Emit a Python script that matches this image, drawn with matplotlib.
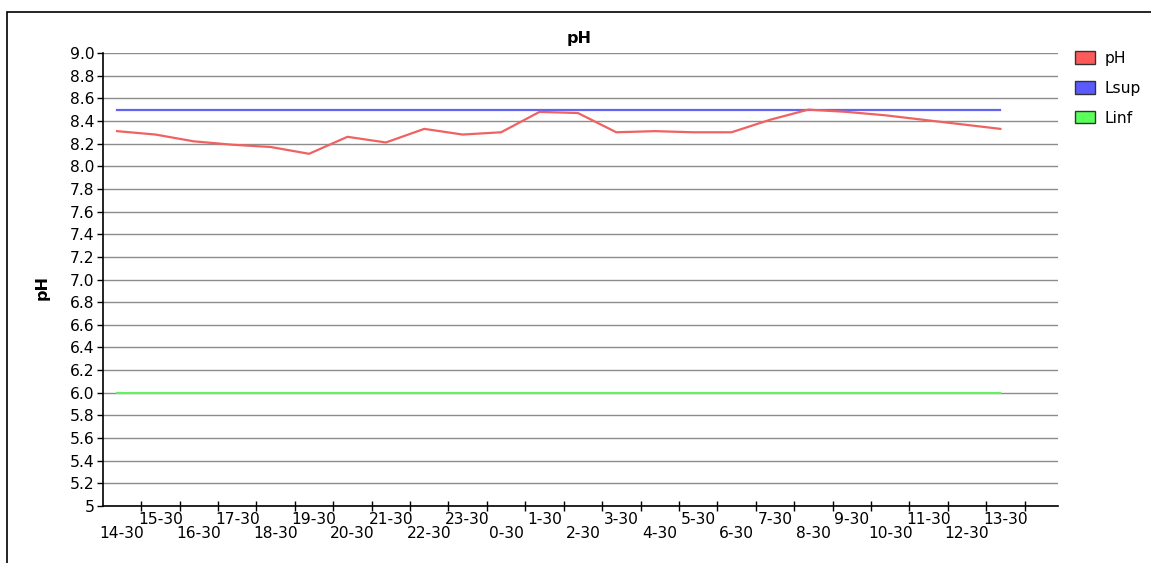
import matplotlib
matplotlib.use("Agg")
import matplotlib.pyplot as plt
import matplotlib.transforms as mtransforms
import numpy as np
from matplotlib.patches import Patch, Rectangle

categories = ["14-30", "15-30", "16-30", "17-30", "18-30", "19-30", "20-30", "21-30",
              "22-30", "23-30", "0-30", "1-30", "2-30", "3-30", "4-30", "5-30",
              "6-30", "7-30", "8-30", "9-30", "10-30", "11-30", "12-30", "13-30"]
ph_values = [8.31, 8.28, 8.22, 8.19, 8.17, 8.11, 8.26, 8.21, 8.33, 8.28, 8.30, 8.48,
             8.47, 8.30, 8.31, 8.30, 8.30, 8.41, 8.50, 8.48, 8.45, 8.41, 8.37, 8.33]
lsup_values = [8.5] * len(categories)
linf_values = [6.0] * len(categories)
y_ticks = [5.0, 5.2, 5.4, 5.6, 5.8, 6.0, 6.2, 6.4, 6.6, 6.8, 7.0, 7.2, 7.4, 7.6, 7.8,
           8.0, 8.2, 8.4, 8.6, 8.8, 9.0]

plt.rcParams['font.family'] = ['DejaVu Sans']
FS = 11.2

W, H = 1151, 563
fig = plt.figure(figsize=(W / 100, H / 100), dpi=100)
fig.patch.set_facecolor('white')

# outer frame
fig.patches.append(Rectangle((7 / W, -0.05), 1.2, 1 - 12 / H + 0.05, transform=fig.transFigure,
                             fill=False, edgecolor='black', linewidth=1.2))

left, right, top, bottom = 103, 1058, 53, 506
ax = fig.add_axes([left / W, (H - bottom) / H, (right - left) / W, (bottom - top) / H])

x = np.arange(len(categories))
ax.plot(x, ph_values, color='#F06262', linewidth=1.6, label='pH', zorder=4)
ax.plot(x, lsup_values, color='#6464EE', linewidth=1.6, label='Lsup', zorder=3)
ax.plot(x, linf_values, color='#66EE66', linewidth=1.6, label='Linf', zorder=3)

ax.set_ylim(5.0, 9.0)
ax.set_xlim(-0.365, 24.5)

ax.set_yticks(y_ticks)
ax.set_yticklabels(["5" if v == 5.0 else f"{v:.1f}" for v in y_ticks], fontsize=FS)
ax.grid(axis='y', color='#8c8c8c', linewidth=1.0)
ax.set_axisbelow(True)

# boundary tick marks
ax.set_xticks(x + 0.63)
ax.set_xticklabels([])
ax.tick_params(axis='x', length=7, direction='inout', width=1, color='black')
ax.tick_params(axis='y', length=4, width=1, direction='out', pad=2)

# category labels in two staggered rows
base = ax.get_xaxis_transform()
upper = mtransforms.offset_copy(base, fig=fig, x=0, y=-13, units='dots')
lower = mtransforms.offset_copy(base, fig=fig, x=0, y=-28, units='dots')
for i, c in enumerate(categories):
    ax.text(x[i] + 0.13, 0, c, transform=(lower if i % 2 == 0 else upper),
            ha='center', va='center', fontsize=FS, clip_on=False)

for s in ['top', 'right']:
    ax.spines[s].set_visible(False)
for s in ['left', 'bottom']:
    ax.spines[s].set_color('black')
    ax.spines[s].set_linewidth(1.2)

fig.text(579 / W, 1 - 38 / H, 'pH', fontsize=11.5, fontweight='bold', ha='center', va='center')
fig.text(42 / W, 1 - 288 / H, 'pH', fontsize=11.5, fontweight='bold', ha='center', va='center',
         rotation=90)

handles = [Patch(facecolor='#FF5A5A', edgecolor='#333333', label='pH'),
           Patch(facecolor='#5A5AFF', edgecolor='#333333', label='Lsup'),
           Patch(facecolor='#5AFF5A', edgecolor='#333333', label='Linf')]
fig.legend(handles=handles, loc='upper left', bbox_to_anchor=(1075 / W, 1 - 51 / H),
           frameon=False, fontsize=FS, handlelength=1.3, handleheight=0.85,
           handletextpad=0.6, labelspacing=0.95, borderaxespad=0, borderpad=0)

fig.savefig('out.png', dpi=100, facecolor='white')
